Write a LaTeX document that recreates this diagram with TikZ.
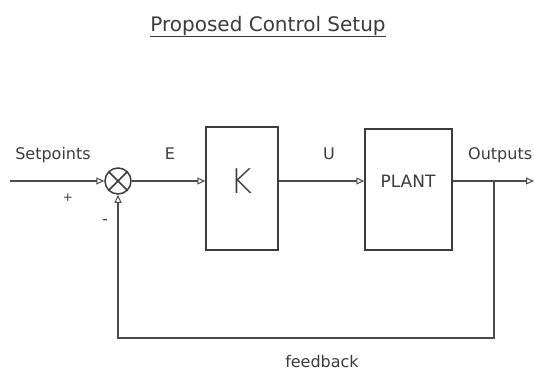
\documentclass[tikz,border=0pt]{standalone}
\usepackage{fontspec}
\setmainfont{DejaVu Sans}
\newfontfamily\thinfont{DejaVu Sans ExtraLight}
\usetikzlibrary{arrows.meta, positioning}
\definecolor{ink}{RGB}{60, 60, 60}
\definecolor{wirecol}{RGB}{75, 75, 75}

\begin{document}
\begin{tikzpicture}[x=1pt, y=-1pt,
  every node/.style = {font=\fontsize{16}{18}\selectfont, text=ink},
  blk/.style = {rectangle, draw=ink, line width=1.5pt, inner sep=0pt},
  sumj/.style = {circle, draw=ink, line width=1.5pt, minimum size=26pt, inner sep=0pt},
  arr/.style = {-{Triangle[open, length=8pt, width=7pt, line width=1pt]}, line width=2.6pt, draw=wirecol},
  lbl/.style = {inner sep=0pt}
]
\useasboundingbox (0,0) rectangle (534,373);

% ---- TITLE ----
\node[lbl, anchor=base, font=\fontsize{20}{24}\selectfont] (title) at (268,31)
  {\underline{Proposed Control Setup}};

% ---- BLOCKS ----
\node[sumj] (sum) at (118,181) {};
\draw[line width=1.5pt, draw=ink] (sum.north west) -- (sum.south east)
  (sum.north east) -- (sum.south west);

\node[blk, minimum width=72pt, minimum height=123pt] (K) at (242,188.5) {};
\node[font=\thinfont\fontsize{34}{36}\selectfont] (Klbl) at (241,181) {K};

\node[blk, minimum width=87pt, minimum height=121pt] (plant) at (408.5,189.5) {};
\node[font=\fontsize{17}{20}\selectfont] (plantlbl) at (408,181) {PLANT};

\coordinate (in) at (10,181);
\coordinate (out) at (534,181);
\coordinate (branch) at (494,181);
\coordinate (fbbot) at (494,338);

% ---- FORWARD PATH ----
\draw[arr] (in) -- (sum.west);
\draw[arr] (sum.east) -- (sum -| K.west);
\draw[arr] (sum -| K.east) -- (sum -| plant.west);
\draw[arr] (sum -| plant.east) -- (out);

% ---- FEEDBACK ----
\draw[arr] (branch) -- (fbbot) -| (sum.south);

% ---- LABELS ----
\node[lbl] (setp) at (53,155) {Setpoints};
\node[lbl] (elbl) at (170,154) {E};
\node[lbl] (ulbl) at (329,154) {U};
\node[lbl, anchor=west] (outlbl) at (468,155) {Outputs};
\node[lbl] (fblbl) at (322,362) {feedback};
\node[lbl, font=\fontsize{12}{12}\selectfont] (plus) at (68,198) {+};
\node[lbl] (minus) at (105,222) {-};

\end{tikzpicture}
\end{document}
